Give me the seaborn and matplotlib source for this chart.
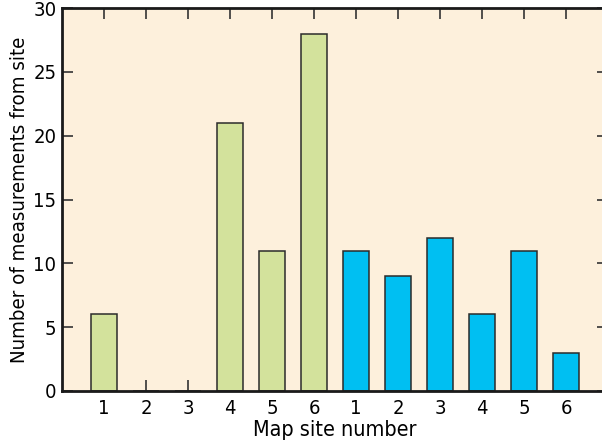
import matplotlib
matplotlib.use("Agg")
import matplotlib.pyplot as plt
from matplotlib import font_manager
import seaborn as sns
import pandas as pd

# Measurement counts per map site, two site groups
group_a_sites = ["1", "2", "3", "4", "5", "6"]
group_a_counts = [6, 0, 0, 21, 11, 28]
group_b_sites = ["1", "2", "3", "4", "5", "6"]
group_b_counts = [11, 9, 12, 6, 11, 3]

sns.set_theme(style="ticks")

# Prefer a narrow sans face when one is installed
narrow = None
for f in font_manager.fontManager.ttflist:
    if ("Narrow" in f.name or "Condensed" in f.name or f.stretch in ("condensed", "semi-condensed")) \
            and f.style == "normal" and f.weight in (400, "normal", "regular") and "Serif" not in f.name \
            and "Mono" not in f.name:
        narrow = f
        break
if narrow is not None:
    fprop = font_manager.FontProperties(fname=narrow.fname)
else:
    fprop = font_manager.FontProperties(family="DejaVu Sans")
plt.rcParams["font.family"] = [fprop.get_name(), "DejaVu Sans"]

labels = group_a_sites + group_b_sites
counts = group_a_counts + group_b_counts
df = pd.DataFrame({
    "pos": list(range(1, len(labels) + 1)),
    "count": counts,
    "group": ["A"] * len(group_a_sites) + ["B"] * len(group_b_sites),
})

fig = plt.figure(figsize=(6.02, 4.45), dpi=100)
ax = fig.add_axes([62 / 602, 1 - 391 / 445, 546 / 602, 383 / 445])
ax.set_facecolor("#FDF0DC")

sns.barplot(data=df, x="pos", y="count", hue="group", native_scale=True,
            dodge=False, width=0.62, saturation=1,
            palette={"A": "#D3E29C", "B": "#00BFF2"},
            edgecolor="#2b2b2b", linewidth=1.1, legend=False, ax=ax, zorder=2)

ax.set_xlim(0, 13)
ax.set_ylim(0, 30)
ax.set_xticks(df["pos"])
ax.set_xticklabels(labels)
ax.set_yticks([0, 5, 10, 15, 20, 25, 30])
ax.tick_params(axis="both", direction="in", length=8, width=1.2, color="#333333",
               labelsize=14.5, top=True, right=True, labelcolor="black")
ax.tick_params(axis="x", pad=6)
ax.tick_params(axis="y", pad=4)
for t in ax.xaxis.get_major_ticks() + ax.yaxis.get_major_ticks():
    t.tick1line.set_zorder(5)
    t.tick2line.set_zorder(5)
for lab in ax.get_xticklabels() + ax.get_yticklabels():
    lab.set_fontproperties(fprop)
    lab.set_fontsize(14.5)
for s in ax.spines.values():
    s.set_linewidth(2)
    s.set_color("#1a1a1a")
ax.spines["right"].set_visible(False)

ax.set_xlabel("Map site number", fontproperties=fprop, fontsize=15.5,
              labelpad=1, color="black")
ax.set_ylabel("Number of measurements from site", fontproperties=fprop,
              fontsize=14.7, labelpad=3, color="black")

fig.savefig("out.png", dpi=100)
